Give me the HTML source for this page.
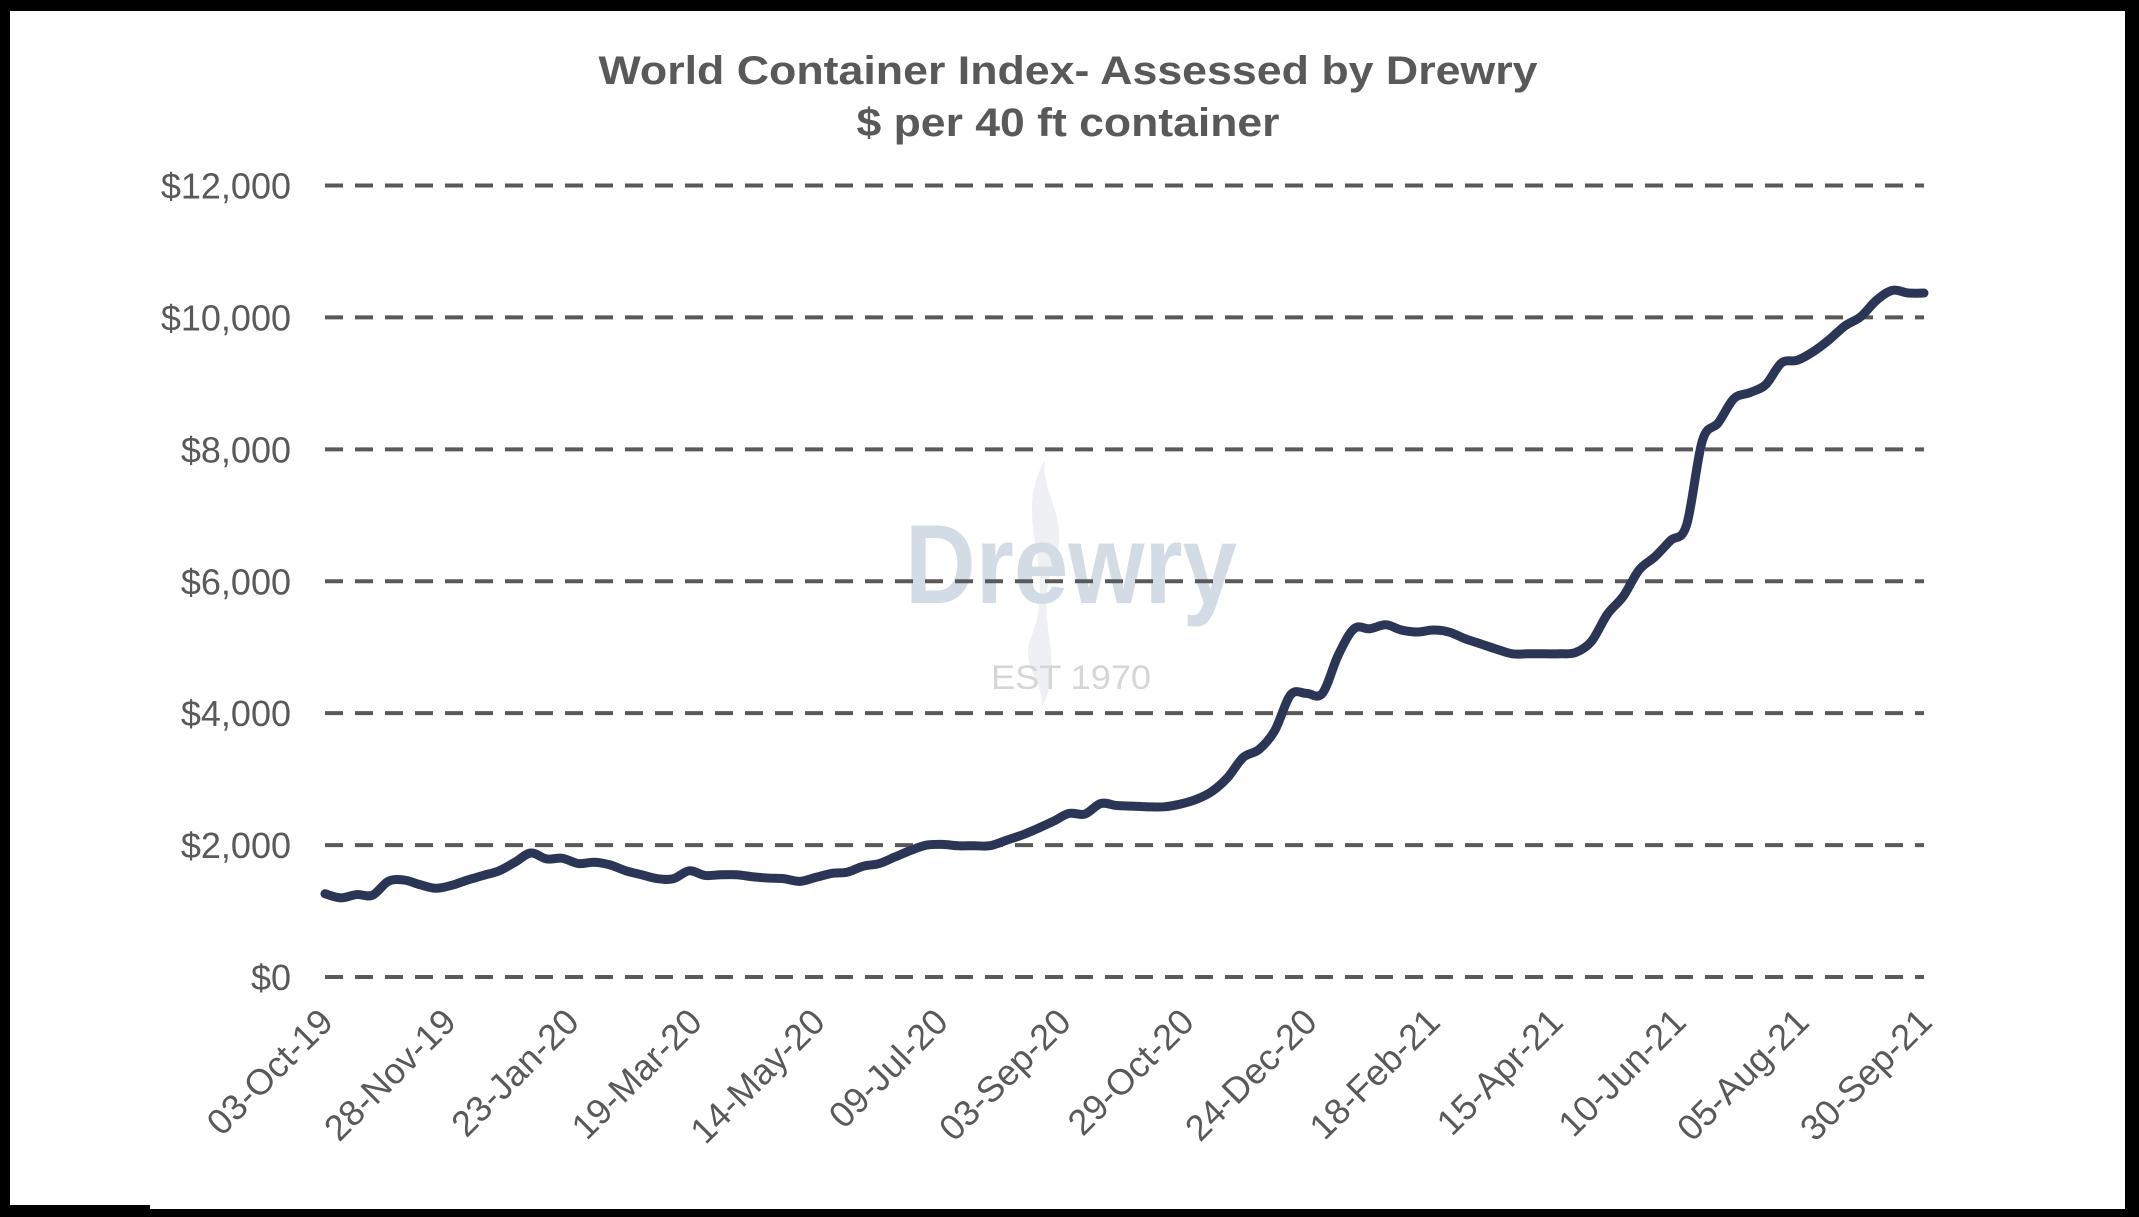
<!DOCTYPE html>
<html><head><meta charset="utf-8"><style>
html,body{margin:0;padding:0;background:#fff}
svg{display:block}
text{font-family:"Liberation Sans",Arial,sans-serif}
</style></head><body>
<svg id="chart" width="2139" height="1217" viewBox="0 0 2139 1217" xmlns="http://www.w3.org/2000/svg">
<rect x="0" y="0" width="2139" height="1217" fill="#000"/>
<rect x="10" y="11" width="2115" height="1198" fill="#fff"/>
<rect x="0" y="1205" width="150" height="12" fill="#000"/>
<text x="1068" y="84" text-anchor="middle" font-size="40" font-weight="bold" fill="#595959" textLength="939" lengthAdjust="spacingAndGlyphs">World Container Index- Assessed by Drewry</text>
<text x="1068" y="136" text-anchor="middle" font-size="40" font-weight="bold" fill="#595959" textLength="423" lengthAdjust="spacingAndGlyphs">$ per 40 ft container</text>
<path d="M1045 460 C1010 520 1060 570 1030 640 C1020 670 1050 690 1040 710 C1070 660 1030 620 1055 560 C1070 520 1040 490 1045 460Z" fill="#eef0f3"/>
<text x="1071" y="603" text-anchor="middle" font-size="112" font-weight="bold" fill="#d3dbe5" textLength="332" lengthAdjust="spacingAndGlyphs">Drewry</text>
<text x="1071" y="689" text-anchor="middle" font-size="34" fill="#d6d6d6" textLength="160" lengthAdjust="spacingAndGlyphs">EST 1970</text>
<g id="grid"></g><g id="yaxis"></g><g id="xaxis"></g><g id="series"></g>
</svg>
<script>
const yTicks=[0,2000,4000,6000,8000,10000,12000];
const yTickLabels=["$0","$2,000","$4,000","$6,000","$8,000","$10,000","$12,000"];
const xTickLabels=["03-Oct-19","28-Nov-19","23-Jan-20","19-Mar-20","14-May-20","09-Jul-20","03-Sep-20","29-Oct-20","24-Dec-20","18-Feb-21","15-Apr-21","10-Jun-21","05-Aug-21","30-Sep-21"];
const values=[1262,1200,1250,1240,1450,1470,1400,1345,1390,1470,1540,1610,1740,1880,1790,1800,1720,1740,1700,1610,1550,1490,1490,1610,1540,1550,1550,1520,1500,1490,1450,1510,1570,1590,1680,1720,1820,1920,2000,2010,1990,1990,1990,2070,2150,2250,2360,2480,2470,2630,2600,2590,2580,2580,2620,2690,2810,3020,3330,3450,3740,4280,4300,4300,4880,5280,5280,5340,5260,5230,5260,5230,5130,5050,4970,4900,4900,4900,4900,4920,5090,5500,5770,6170,6370,6620,6850,8130,8400,8770,8860,8980,9310,9350,9480,9660,9870,10010,10260,10410,10370,10370];
const NS="http://www.w3.org/2000/svg";
const X0=325,X1=1924,Y0=977,Y1=185.5,YMAX=12000;
const yScale=v=>Y0-(v/YMAX)*(Y0-Y1);
const xScaleFrac=f=>X0+f*(X1-X0);
function mk(tag,attrs,parent){const e=document.createElementNS(NS,tag);for(const k in attrs)e.setAttribute(k,attrs[k]);parent.appendChild(e);return e;}
const grid=document.getElementById('grid'),yax=document.getElementById('yaxis'),xax=document.getElementById('xaxis'),ser=document.getElementById('series');
yTicks.forEach((t,i)=>{
  const y=yScale(t);
  const l=mk('line',{x1:X0,x2:X1,y1:y,y2:y,stroke:'#595959','stroke-width':4,'stroke-dasharray':'18 12'},grid);
  
  
  const tx=mk('text',{x:291,y:y+13,'text-anchor':'end','font-size':36,fill:'#595959'},yax);
  tx.textContent=yTickLabels[i];
  
  
});
xTickLabels.forEach((lab,i)=>{
  const x=xScaleFrac(i/(xTickLabels.length-1));
  const tx=mk('text',{x:x+10,y:1024,'text-anchor':'end','font-size':36,fill:'#595959',transform:`rotate(-45 ${x+10} 1024)`},xax);
  tx.textContent=lab;
  
  
});
const pts=values.map((v,i)=>[xScaleFrac(i/(values.length-1)),yScale(v)]);
let d=`M${pts[0][0]},${pts[0][1]}`;
for(let i=0;i<pts.length-1;i++){
  const p0=pts[Math.max(0,i-1)],p1=pts[i],p2=pts[i+1],p3=pts[Math.min(pts.length-1,i+2)];
  const c1=[p1[0]+(p2[0]-p0[0])/6,p1[1]+(p2[1]-p0[1])/6];
  const c2=[p2[0]-(p3[0]-p1[0])/6,p2[1]-(p3[1]-p1[1])/6];
  d+=` C${c1[0]},${c1[1]} ${c2[0]},${c2[1]} ${p2[0]},${p2[1]}`;
}
const path=mk('path',{d:d,fill:'none',stroke:'#2b3656','stroke-width':9,'stroke-linejoin':'round','stroke-linecap':'round'},ser);


</script>
</body></html>
